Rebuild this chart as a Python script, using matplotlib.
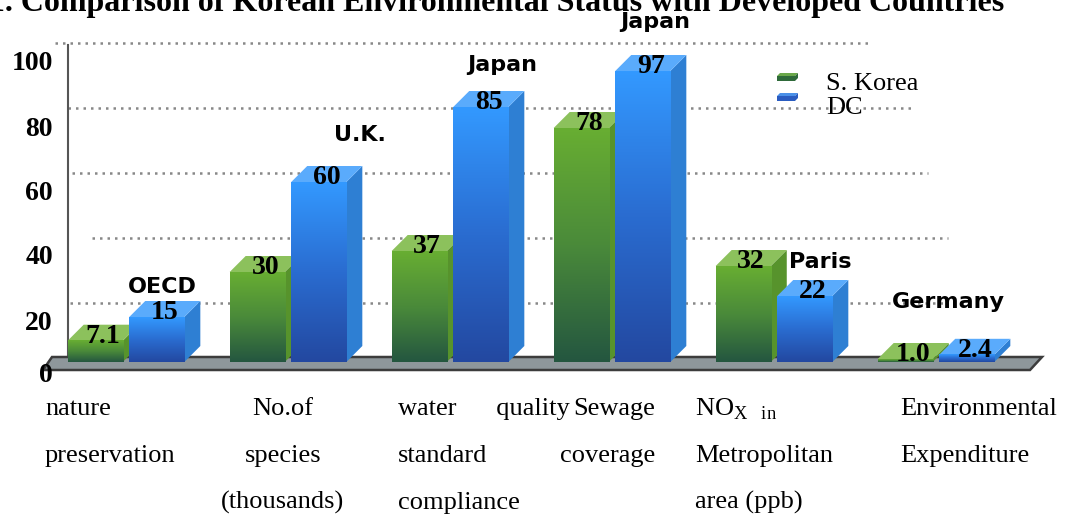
import matplotlib
matplotlib.use("Agg")
import matplotlib.pyplot as plt
import numpy as np
from matplotlib.patches import Polygon
from matplotlib.colors import LinearSegmentedColormap
from matplotlib.transforms import Affine2D

# ---- data ----
categories = [
    ["nature", "preservation"],
    ["No.of", "species", "(thousands)"],
    ["water      quality", "standard", "compliance"],
    ["Sewage", "coverage"],
    [r"NO$_{\mathrm{X}}$  $_{\mathrm{in}}$", "Metropolitan", "area (ppb)"],
    ["Environmental", "Expenditure"],
]
korea = [7.1, 30, 37, 78, 32, 1.0]
dc = [15, 60, 85, 97, 22, 2.4]
korea_labels = ["7.1", "30", "37", "78", "32", "1.0"]
dc_labels = ["15", "60", "85", "97", "22", "2.4"]
sources = ["OECD", "U.K.", "Japan", "Japan", "Paris", "Germany"]
tick_values = [100, 80, 60, 40, 20, 0]
grid_values = [20, 40, 60, 80, 100]
series_names = ["S. Korea", "DC"]
title = "1. Comparison of Korean Environmental Status with Developed Countries"

# ---- layout (pixels, origin top-left) ----
W, H = 1084, 514
X0, XSTEP = 126, 162          # pixel x of first group, group spacing
Y0, YSCALE = 362, 3.0         # pixel y of value 0, pixels per unit
BAR_W, OFF = 0.34, 0.19
DX, DY = 16 / XSTEP, 16 / YSCALE

tick_px_y = [63, 130, 193, 257, 323, 375]
grid_px_x = [(70, 948), (92, 948), (72, 928), (68, 912), (55, 870)]
cat_px = [(45, "left"), (283, "center"), (398, "left"), (655, "right"), (695, "left"), (900, "left")]
cat_base = [415, 462, 509]
source_px = [(162, 287), (360, 135), (502, 65), (655, 22), (820, 262), (948, 302)]

plt.rcParams["mathtext.fontset"] = "custom"
plt.rcParams["mathtext.rm"] = "Liberation Serif"
SERIF = "Liberation Serif"

fig = plt.figure(figsize=(W / 100, H / 100), dpi=100)
ax = fig.add_axes([0, 0, 1, 1])
ax.set_axis_off()
pxT = Affine2D().scale(1 / W, -1 / H).translate(0, 1) + fig.transFigure


def dx_(px):
    return (px - X0) / XSTEP


def dy_(py):
    return (Y0 - py) / YSCALE


green_cmap = LinearSegmentedColormap.from_list("g", ["#245640", "#4a8a3a", "#68ae32"])
blue_cmap = LinearSegmentedColormap.from_list("b", ["#2348a0", "#2a6cd0", "#3399ff"])
grad = np.linspace(0, 1, 256).reshape(-1, 1)


def bar3d(x, h, cmap, top_c, side_c, z):
    x0, x1 = x - BAR_W / 2, x + BAR_W / 2
    ax.add_patch(Polygon([(x1, 0), (x1 + DX, DY), (x1 + DX, h + DY), (x1, h)],
                         closed=True, fc=side_c, ec="none", zorder=z))
    ax.add_patch(Polygon([(x0, h), (x1, h), (x1 + DX, h + DY), (x0 + DX, h + DY)],
                         closed=True, fc=top_c, ec="none", zorder=z))
    ax.imshow(grad, extent=[x0, x1, 0, h], cmap=cmap, aspect="auto",
              origin="lower", zorder=z, interpolation="bilinear")


# gridlines (back wall, a little higher than the bar scale)
for v, (a, b) in zip(grid_values, grid_px_x):
    ax.plot([dx_(a), dx_(b)], [v * 1.085 - 2] * 2, ls=(0, (1, 2)), color="#888888",
            lw=1.8, zorder=1)

# y axis line
ax.plot([dx_(68), dx_(68)], [dy_(358), dy_(45)], color="#555555", lw=1.5, zorder=1)

# floor
floor = [(dx_(52), dy_(357)), (dx_(1042), dy_(357)), (dx_(1030), dy_(370)), (dx_(43), dy_(370))]
ax.add_patch(Polygon(floor, closed=True, fc="#8e979b", ec="#3c3c3c", lw=1.8, zorder=2))

# bars
for i, (k, d) in enumerate(zip(korea, dc)):
    bar3d(i - OFF, k, green_cmap, "#8cc15c", "#57932c", 3 + i * 2)
    bar3d(i + OFF, d, blue_cmap, "#5aabfc", "#2e7fd3", 4 + i * 2)
    ax.text(i - OFF + DX / 2, k + 1.5, korea_labels[i], family=SERIF, weight="bold",
            fontsize=20, ha="center", va="center", zorder=20)
    ax.text(i + OFF + DX / 2, d + 1.5, dc_labels[i], family=SERIF, weight="bold",
            fontsize=20, ha="center", va="center", zorder=20)

ax.set_xlim(dx_(0), dx_(W))
ax.set_ylim(dy_(H), dy_(0))

# y tick labels
for v, py in zip(tick_values, tick_px_y):
    fig.text(53, py, str(v), transform=pxT, family=SERIF, weight="bold",
             fontsize=20, ha="right", va="center")

# category labels
for lines, (px, ha) in zip(categories, cat_px):
    for line, py in zip(lines, cat_base):
        fig.text(px, py, line, transform=pxT, family=SERIF, fontsize=19,
                 ha=ha, va="baseline")

# source annotations
for s, (px, py) in zip(sources, source_px):
    fig.text(px, py, s, transform=pxT, family="DejaVu Sans", weight="bold",
             fontsize=16, ha="center", va="center")

# legend
for name, py, top_c, front_c in zip(series_names, [76, 96], ["#6aa84a", "#4a90e8"],
                                    ["#2f6a3a", "#2a5cc0"]):
    fig.patches.append(Polygon([(777, py), (795, py), (798, py - 3), (780, py - 3)],
                               closed=True, fc=top_c, ec="none", transform=pxT))
    fig.patches.append(Polygon([(777, py), (795, py), (795, py + 5), (777, py + 5)],
                               closed=True, fc=front_c, ec="none", transform=pxT))
    fig.patches.append(Polygon([(795, py), (798, py - 3), (798, py + 2), (795, py + 5)],
                               closed=True, fc=front_c, ec="none", transform=pxT))
for name, py in zip(series_names, [84, 108]):
    fig.text(826, py, name, transform=pxT, family=SERIF, fontsize=19,
             ha="left", va="center")

# title (cut off at the top like the source)
fig.text(1004, 11, title, transform=pxT, family=SERIF, weight="bold",
         fontsize=23, ha="right", va="baseline")

fig.savefig("out.png", dpi=100)
